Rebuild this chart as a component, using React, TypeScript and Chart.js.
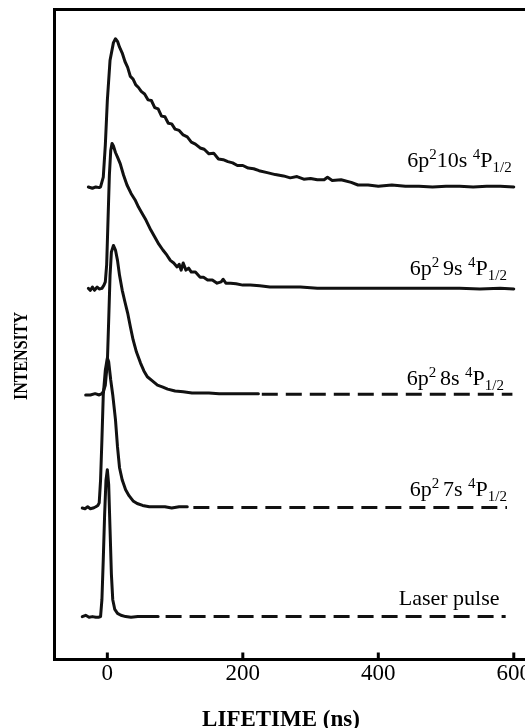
import { useEffect, useRef } from "react";
import { Chart, registerables } from "chart.js";

Chart.register(...registerables);

// ---------- data (time in ns, intensity in arbitrary stacked units) ----------
const xTickValues = [0, 200, 400, 600];

const t10s = [-28, -22, -17, -12, -10, -6, -3, 0, 4, 9, 12, 15, 18, 22, 26, 30, 34, 38, 42, 46, 50, 55, 60, 65, 70, 75, 80, 85, 90, 95, 100, 106, 112, 118, 124, 130, 137, 143, 150, 157, 164, 171, 178, 185, 192, 200, 208, 216, 224, 236, 248, 260, 270, 280, 290, 300, 310, 320, 325, 332, 345, 360, 370, 385, 400, 420, 440, 460, 480, 500, 520, 540, 560, 580, 600];
const i10s = [72.7, 72.5, 72.7, 72.6, 72.7, 74.2, 79.1, 86.0, 92.2, 94.9, 95.5, 95.1, 94.2, 93.3, 92.0, 91.1, 89.7, 89.3, 88.4, 88.0, 87.4, 87.0, 86.1, 86.0, 84.9, 84.7, 83.6, 83.5, 82.5, 82.4, 81.6, 81.4, 80.7, 80.4, 79.6, 79.3, 78.7, 78.5, 77.8, 77.9, 77.0, 76.9, 76.6, 76.4, 76.0, 76.0, 75.6, 75.5, 75.2, 74.9, 74.6, 74.4, 74.1, 74.3, 73.9, 74.0, 73.8, 73.8, 74.2, 73.7, 73.8, 73.4, 73.0, 73.0, 72.8, 73.0, 72.8, 72.8, 72.7, 72.8, 72.8, 72.7, 72.8, 72.8, 72.7];

const t9s = [-28, -25, -22, -19, -15, -12, -8, -5, -3, -1, 1, 3, 5, 7, 9, 12, 15, 19, 24, 29, 35, 41, 46, 51, 57, 64, 70, 76, 82, 88, 93, 98, 103, 106, 109, 112, 116, 120, 124, 130, 137, 142, 148, 155, 162, 168, 171, 175, 182, 190, 200, 211, 225, 240, 260, 285, 310, 340, 370, 400, 430, 460, 490, 520, 550, 580, 600];
const i9s = [57.1, 56.8, 57.3, 56.8, 57.3, 57.0, 57.1, 57.6, 58.1, 60.7, 67.6, 74.5, 78.3, 79.4, 79.0, 78.0, 77.3, 76.3, 74.5, 73.0, 71.7, 70.7, 69.6, 68.7, 67.6, 66.1, 65.0, 63.9, 63.0, 62.2, 61.4, 61.0, 60.4, 60.8, 59.9, 61.0, 59.9, 60.2, 59.6, 59.6, 58.8, 58.8, 58.4, 58.4, 57.9, 58.1, 58.5, 57.9, 57.9, 57.8, 57.6, 57.6, 57.5, 57.3, 57.3, 57.3, 57.1, 57.1, 57.1, 57.1, 57.1, 57.1, 57.1, 57.1, 57.0, 57.1, 57.0];

const t8s = [-32, -25, -18, -12, -8, -6, -3, 0, 2, 4, 6, 9, 12, 15, 18, 22, 26, 30, 34, 38, 43, 49, 54, 59, 66, 74, 82, 89, 100, 112, 125, 137, 150, 165, 177, 190, 205, 223];
const i8s = [40.7, 40.7, 40.9, 40.7, 40.9, 41.2, 42.2, 45.6, 52.2, 59.1, 62.7, 63.7, 63.0, 61.4, 59.1, 56.8, 55.0, 53.3, 51.2, 49.2, 47.3, 45.6, 44.4, 43.5, 42.9, 42.2, 41.9, 41.6, 41.3, 41.2, 41.0, 41.0, 41.0, 40.9, 40.9, 40.9, 40.9, 40.9];
const t8sBase = [228, 598];
const i8sBase = [40.8, 40.8];

const t7s = [-37, -33, -29, -25, -21, -17, -14, -12, -10, -8, -6, -3, 0, 2, 5, 8, 12, 15, 18, 22, 27, 32, 38, 44, 52, 62, 74, 85, 95, 106, 118];
const i7s = [23.3, 23.2, 23.5, 23.2, 23.3, 23.5, 23.7, 24.1, 27.6, 33.8, 40.7, 44.5, 46.4, 45.8, 43.0, 40.7, 36.9, 32.7, 29.5, 27.6, 26.1, 25.2, 24.4, 24.0, 23.7, 23.5, 23.5, 23.5, 23.3, 23.5, 23.5];
const t7sBase = [127, 590];
const i7sBase = [23.4, 23.4];

const tLaser = [-37, -32, -27, -22, -17, -13, -10, -8, -6, -4, -2, 0, 2, 4, 6, 8, 11, 15, 20, 27, 35, 45, 55, 65, 75];
const iLaser = [6.6, 6.8, 6.5, 6.6, 6.5, 6.5, 6.6, 9.2, 15.4, 22.3, 27.6, 29.2, 26.9, 20.0, 13.1, 9.2, 7.7, 7.1, 6.8, 6.6, 6.5, 6.6, 6.6, 6.6, 6.6];
const tLaserBase = [86, 588];
const iLaserBase = [6.6, 6.6];

// trace labels: rich-text segments ("" normal, "sup", "sub")
type Seg = [string, string];
const label10s: Seg[] = [["6p", ""], ["2", "sup"], ["10s ", ""], ["4", "sup"], ["P", ""], ["1/2", "sub"]];
const label9s: Seg[] = [["6p", ""], ["2 ", "sup"], ["9s ", ""], ["4", "sup"], ["P", ""], ["1/2", "sub"]];
const label8s: Seg[] = [["6p", ""], ["2 ", "sup"], ["8s ", ""], ["4", "sup"], ["P", ""], ["1/2", "sub"]];
const label7s: Seg[] = [["6p", ""], ["2 ", "sup"], ["7s ", ""], ["4", "sup"], ["P", ""], ["1/2", "sub"]];
const labelLaser: Seg[] = [["Laser pulse", ""]];

const xTitle = "LIFETIME (ns)";
const yTitle = "INTENSITY";

const pts = (t: number[], v: number[]) => t.map((x, i) => ({ x, y: v[i] }));

const SERIF = '"Liberation Serif", "Times New Roman", serif';

function drawRich(ctx: CanvasRenderingContext2D, segs: Seg[], rightX: number, baseY: number) {
  const fontOf = (k: string) => (k ? `15px ${SERIF}` : `22px ${SERIF}`);
  const widths = segs.map(([s, k]) => {
    ctx.font = fontOf(k);
    return ctx.measureText(s).width;
  });
  let x = rightX - widths.reduce((a, b) => a + b, 0);
  segs.forEach(([s, k], i) => {
    ctx.font = fontOf(k);
    const dy = k === "sup" ? -8 : k === "sub" ? 5 : 0;
    ctx.fillText(s, x, baseY + dy);
    x += widths[i];
  });
}

export default function App() {
  const ref = useRef<HTMLCanvasElement>(null);

  useEffect(() => {
    const canvas = ref.current;
    if (!canvas) return;

    const labelPlacements: { segs: Seg[]; t: number; v: number }[] = [
      { segs: label10s, t: 597, v: 75.7 },
      { segs: label9s, t: 590, v: 59.2 },
      { segs: label8s, t: 585.5, v: 42.3 },
      { segs: label7s, t: 590, v: 25.1 },
      { segs: labelLaser, t: 579, v: 8.4 },
    ];

    const frame = {
      id: "frame",
      afterDraw(chart: any) {
        const { ctx, chartArea: a, scales } = chart;
        const xs = scales.x;
        const ys = scales.y;
        ctx.save();
        ctx.strokeStyle = "#000";
        ctx.lineWidth = 3;
        ctx.lineCap = "square";
        ctx.beginPath();
        ctx.moveTo(a.left, a.bottom);
        ctx.lineTo(a.left, a.top);
        ctx.lineTo(a.right + 5, a.top);
        ctx.stroke();
        // inward tick marks
        ctx.lineCap = "butt";
        xTickValues.forEach((v) => {
          const px = xs.getPixelForValue(v);
          ctx.beginPath();
          ctx.moveTo(px, a.bottom);
          ctx.lineTo(px, a.bottom - 7);
          ctx.stroke();
        });
        ctx.fillStyle = "#000";
        ctx.textAlign = "left";
        ctx.textBaseline = "alphabetic";
        labelPlacements.forEach((l) => {
          drawRich(ctx, l.segs, xs.getPixelForValue(l.t), ys.getPixelForValue(l.v));
        });
        // axis titles
        ctx.font = `bold 23px ${SERIF}`;
        ctx.textAlign = "center";
        ctx.fillText(xTitle, 281, 726);
        ctx.save();
        ctx.translate(27, 356);
        ctx.rotate(-Math.PI / 2);
        ctx.scale(1, 1.2);
        ctx.font = `bold 16px ${SERIF}`;
        ctx.fillText(yTitle, 0, 0);
        ctx.restore();
        ctx.restore();
      },
    };

    const solid = (t: number[], v: number[]) => ({
      data: pts(t, v),
      borderColor: "#111",
      borderWidth: 3,
      pointRadius: 0,
      tension: 0,
      fill: false,
      borderJoinStyle: "round" as const,
      borderCapStyle: "round" as const,
    });
    const dashed = (t: number[], v: number[]) => ({
      data: pts(t, v),
      borderColor: "#111",
      borderWidth: 3,
      pointRadius: 0,
      tension: 0,
      fill: false,
      borderDash: [16, 8],
      borderCapStyle: "butt" as const,
    });

    const chart = new Chart(canvas, {
      type: "line",
      data: {
        datasets: [
          solid(t10s, i10s),
          solid(t9s, i9s),
          solid(t8s, i8s),
          dashed(t8sBase, i8sBase),
          solid(t7s, i7s),
          dashed(t7sBase, i7sBase),
          solid(tLaser, iLaser),
          dashed(tLaserBase, iLaserBase),
        ] as any,
      },
      options: {
        animation: false,
        responsive: false,
        maintainAspectRatio: false,
        devicePixelRatio: 1,
        layout: { padding: { left: 54.5, top: 9.5, right: 0, bottom: 38.9 } },
        plugins: { legend: { display: false }, tooltip: { enabled: false } },
        scales: {
          x: {
            type: "linear",
            min: -78,
            max: 683,
            grid: { display: false, drawTicks: false },
            border: { display: true, width: 3, color: "#000" },
            ticks: { font: { family: SERIF, size: 23 }, color: "#000", padding: 1, maxRotation: 0 },
            afterBuildTicks: (s: any) => {
              s.ticks = xTickValues.map((v) => ({ value: v }));
            },
          },
          y: { display: false, min: 0, max: 100 },
        },
      },
      plugins: [frame],
    });
    return () => chart.destroy();
  }, []);

  return (
    <div style={{ position: "absolute", left: 0, top: 0, width: 525, height: 728, overflow: "hidden", background: "#fff" }}>
      <canvas ref={ref} width={570} height={728} style={{ display: "block", width: 570, height: 728 }} />
    </div>
  );
}
